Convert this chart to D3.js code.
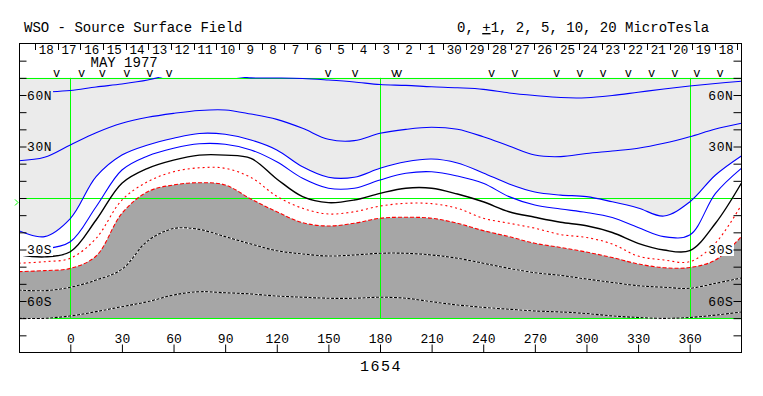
<!DOCTYPE html>
<html>
<head>
<meta charset="utf-8">
<script src="https://cdn.jsdelivr.net/npm/d3@7"></script>
<style>
  body { margin: 0; background: #fff; }
  svg { display: block; }
  text { font-family: "Liberation Mono", "DejaVu Sans Mono", monospace; fill: #000; }
</style>
</head>
<body>
<svg id="chart" width="763" height="396"></svg>
<script>
// Carrington longitude grid of the traced contours (deg)
var lons = [-30,-15,0,15,30,45,60,75,90,105,120,135,150,165,180,195,210,225,240,255,270,285,300,315,330,345,360,375,390];

// contour latitudes (deg), one array per level (microTesla)
var p10 = [61.0,61.7,62.6,64.7,66.4,68.7,72.2,73.4,71.6,70.0,69.9,69.6,68.7,67.6,66.1,65.6,64.8,64.2,63.3,61.2,59.7,58.5,58.4,59.7,61.6,63.5,65.2,66.7,68.0];
var p5  = [21.7,23.7,30.9,38.0,43.5,47.0,49.3,51.0,51.3,48.9,45.8,40.6,34.2,33.4,37.7,40.0,41.2,40.0,35.7,30.3,25.0,24.1,25.9,27.4,29.0,31.9,35.7,40.2,43.5];
var p2  = [-19.0,-22.5,-12.0,12.4,25.0,30.9,34.8,37.6,37.1,33.8,28.0,18.2,12.1,12.1,17.3,21.1,22.7,20.4,14.6,8.2,3.5,1.7,0.8,-2.2,-5.8,-10.5,-2.3,13.4,24.5];
var p1  = [-28.0,-29.5,-25.5,-5.1,16.3,24.5,29.0,31.6,31.3,28.0,21.1,11.5,5.7,5.7,10.5,14.4,15.3,12.8,8.6,0.8,-4.1,-6.4,-8.4,-11.4,-17.2,-22.5,-21.6,2.7,17.3];
var n0  = [-33.0,-34.3,-31.3,-12.8,8.6,17.3,22.1,25.0,25.0,23.1,11.1,0.8,-2.7,-1.2,2.7,5.7,5.7,2.3,-2.2,-8.0,-11.2,-14.1,-16.2,-20.1,-26.4,-30.3,-30.7,-14.7,8.6];
var m1  = [-38.0,-37.1,-35.1,-23.5,-1.2,9.5,15.3,17.6,17.3,12.0,1.0,-6.0,-9.3,-8.0,-4.7,-3.1,-3.3,-6.0,-11.8,-14.7,-17.6,-21.3,-23.0,-26.8,-33.8,-36.1,-37.1,-26.2,-4.1];
var m2  = [-42.9,-42.3,-41.0,-33.8,-8.9,3.7,7.6,8.9,7.6,-0.6,-8.0,-14.4,-16.3,-14.7,-11.8,-11.2,-11.8,-14.7,-19.0,-22.5,-26.4,-28.8,-31.5,-34.7,-38.4,-40.6,-40.5,-36.1,-22.5];
var m5  = [-53.6,-54.0,-52.0,-47.8,-41.5,-25.0,-17.8,-18.3,-22.5,-26.8,-30.7,-32.6,-33.8,-33.2,-32.2,-32.2,-33.2,-35.1,-38.0,-41.0,-43.5,-45.1,-47.2,-49.2,-51.1,-52.0,-52.6,-49.7,-46.6];
var m10 = [-70.1,-70.1,-68.7,-66.2,-63.3,-60.4,-56.5,-54.6,-55.2,-55.9,-57.1,-57.8,-58.4,-58.4,-57.8,-58.4,-60.4,-62.3,-63.7,-64.8,-65.8,-66.4,-67.3,-68.7,-69.6,-70.1,-69.6,-68.2,-66.4];

// axis stuff
var lonTicks = [0,30,60,90,120,150,180,210,240,270,300,330,360];
var latTicks = [-80,-70,-60,-50,-40,-30,-20,-10,0,10,20,30,40,50,60,70,80];
var latLabels = [60, 30, -30, -60];
var latNames = ["60N", "30N", "30S", "60S"];
var gridLons = [0, 180, 360];
var gridLats = [70, 0, -70];
var days = [18,17,16,15,14,13,12,11,10,9,8,7,6,5,4,3,2,1,30,29,28,27,26,25,24,23,22,21,20,19,18];
var dayStart = -20.5, dayStep = 13.17;   // longitude of the first day tick, deg per day
var obsLons = [-7.9,6.6,18.6,32.8,46.3,57.4,149.9,165.5,188.3,191.0,244.9,258.4,282.7,296.2,309.7,324.3,337.9,351.4,364.1,377.6];
var b0 = -2.6;
var rotation = "1654";

var light = "#ebebeb", dark = "#a6a6a6", green = "#00ff00";

var svg = d3.select("#chart");
var x = d3.scaleLinear().domain([0, 360]).range([70.3, 689.7]);
var y = d3.scaleLinear().domain([-90, 90]).range([352.5, 43.5]);
var L = 19.5, R = 741.5;

function pts(a) { return lons.map(function (d, i) { return [d, a[i]]; }); }

svg.append("defs").append("clipPath").attr("id", "plot").append("rect")
    .attr("x", L).attr("y", y(70) - 0.8)
    .attr("width", R - L).attr("height", y(-70) - y(70) + 1.6);

var plot = svg.append("g").attr("clip-path", "url(#plot)");
var curve = d3.curveCatmullRom.alpha(0.5);

// shading: above +2 light, below -2 dark
plot.append("path").datum(pts(p2))
    .attr("fill", light)
    .attr("d", d3.area().curve(curve).x(function (d) { return x(d[0]); })
        .y0(y(70)).y1(function (d) { return y(d[1]); }));
plot.append("path").datum(pts(m2))
    .attr("fill", dark)
    .attr("d", d3.area().curve(curve).x(function (d) { return x(d[0]); })
        .y0(y(-70)).y1(function (d) { return y(d[1]); }));

// green grid
plot.selectAll(".hg").data(gridLats).enter().append("line")
    .attr("x1", L).attr("x2", R)
    .attr("y1", function (d) { return Math.round(y(d)) + 0.5; })
    .attr("y2", function (d) { return Math.round(y(d)) + 0.5; })
    .attr("stroke", green).attr("stroke-width", 1);
plot.selectAll(".vg").data(gridLons).enter().append("line")
    .attr("x1", function (d) { return Math.round(x(d)) + 0.5; })
    .attr("x2", function (d) { return Math.round(x(d)) + 0.5; })
    .attr("y1", y(70)).attr("y2", y(-70))
    .attr("stroke", green).attr("stroke-width", 1);

// contours
var line = d3.line().curve(curve)
    .x(function (d) { return x(d[0]); })
    .y(function (d) { return y(d[1]); });

var levels = [
    {v: p10, c: "#0000ff", w: 1.1},
    {v: p5,  c: "#0000ff", w: 1.1},
    {v: p2,  c: "#0000ff", w: 1.1},
    {v: p1,  c: "#0000ff", w: 1.1},
    {v: n0,  c: "#000000", w: 1.4},
    {v: m1,  c: "#ff0000", w: 1.1, dash: "2,3"},
    {v: m2,  c: "#ff0000", w: 1.1, dash: "4,2"},
    {v: m5,  c: "#000000", w: 1.1, dash: "3,1.5", halo: true},
    {v: m10, c: "#000000", w: 1.1, dash: "3,1.5", halo: true}
];

levels.forEach(function (lv) {
    if (lv.halo) {
        plot.append("path").datum(pts(lv.v)).attr("d", line)
            .attr("fill", "none").attr("stroke", "#fff").attr("stroke-width", lv.w);
    }
    plot.append("path").datum(pts(lv.v)).attr("d", line)
        .attr("fill", "none").attr("stroke", lv.c).attr("stroke-width", lv.w)
        .attr("stroke-dasharray", lv.dash || null);
});

// label boxes (same colour as the region behind them)
function at(arr, lon) { return arr[lons.indexOf(lon)]; }
function regionFill(lat, lon) {
    if (lat > at(p2, lon)) return light;
    if (lat < at(m2, lon)) return dark;
    return "#fff";
}
svg.selectAll(".lbl").data(latLabels).enter().append("rect")
    .attr("x", L + 0.5).attr("width", 33)
    .attr("y", function (d) { return y(d) - 6.5; }).attr("height", 13)
    .attr("fill", function (d) { return regionFill(d, -15); });
svg.selectAll(".rbl").data(latLabels).enter().append("rect")
    .attr("x", 708).attr("width", 26)
    .attr("y", function (d) { return y(d) - 6.5; }).attr("height", 13)
    .attr("fill", function (d) { return regionFill(d, 375); });

// observation marks
svg.selectAll(".obs").data(obsLons).enter().append("text")
    .attr("x", function (d) { return x(d); }).attr("y", 77)
    .attr("text-anchor", "middle").attr("font-size", 12).text("v");

// B0 marker
svg.append("path")
    .attr("d", "M15," + (y(b0) - 3) + "L18," + y(b0) + "L15," + (y(b0) + 3))
    .attr("fill", "none").attr("stroke", green).attr("stroke-width", 1);

// axes
var bottom = svg.append("g").attr("transform", "translate(0," + 352.5 + ")")
    .call(d3.axisTop(x).tickValues(lonTicks).tickSize(8).tickPadding(2));
bottom.select(".domain").remove();
bottom.attr("font-size", 13).attr("font-family", null);

var left = svg.append("g").attr("transform", "translate(" + L + ",0)")
    .call(d3.axisRight(y).tickValues(latTicks).tickSize(7).tickFormat(""));
left.select(".domain").remove();
var right = svg.append("g").attr("transform", "translate(" + R + ",0)")
    .call(d3.axisLeft(y).tickValues(latTicks).tickSize(8).tickFormat(""));
right.select(".domain").remove();

svg.selectAll(".lt").data(latLabels).enter().append("text")
    .attr("x", 27).attr("y", function (d) { return y(d) + 4.5; })
    .attr("font-size", 13).attr("letter-spacing", 0.6)
    .text(function (d, i) { return latNames[i]; });
svg.selectAll(".rt").data(latLabels).enter().append("text")
    .attr("x", 733.5).attr("y", function (d) { return y(d) + 4.5; })
    .attr("text-anchor", "end")
    .attr("font-size", 13).attr("letter-spacing", 0.6)
    .text(function (d, i) { return latNames[i]; });

// day band
var dayTicks = d3.range(days.length + 1).map(function (i) { return dayStart + i * dayStep; });
svg.selectAll(".dt").data(dayTicks).enter().append("line")
    .attr("x1", function (d) { return Math.round(x(d)) + 0.5; })
    .attr("x2", function (d) { return Math.round(x(d)) + 0.5; })
    .attr("y1", 43.5).attr("y2", 50)
    .attr("stroke", "#000");
svg.selectAll(".dl").data(days).enter().append("text")
    .attr("x", function (d, i) { return x(dayStart + (i + 0.5) * dayStep); })
    .attr("y", 54).attr("text-anchor", "middle").attr("font-size", 12.5)
    .text(function (d) { return d; });
svg.append("text").attr("x", 90.5).attr("y", 66.5).attr("font-size", 14).text("MAY 1977");

// frame
svg.append("rect").attr("x", L).attr("y", 43.5)
    .attr("width", R - L).attr("height", 309)
    .attr("fill", "none").attr("stroke", "#000");

// titles
svg.append("text").attr("x", 24).attr("y", 32).attr("font-size", 14)
    .text("WSO - Source Surface Field");
var tt = svg.append("text").attr("x", 457).attr("y", 32).attr("font-size", 14);
tt.append("tspan").text("0, ");
tt.append("tspan").attr("text-decoration", "underline").text("+");
tt.append("tspan").text("1, 2, 5, 10, 20 MicroTesla");

svg.append("text").attr("x", 381).attr("y", 370.5)
    .attr("text-anchor", "middle").attr("font-size", 15).attr("letter-spacing", 1.5)
    .text(rotation);
</script>
</body>
</html>
